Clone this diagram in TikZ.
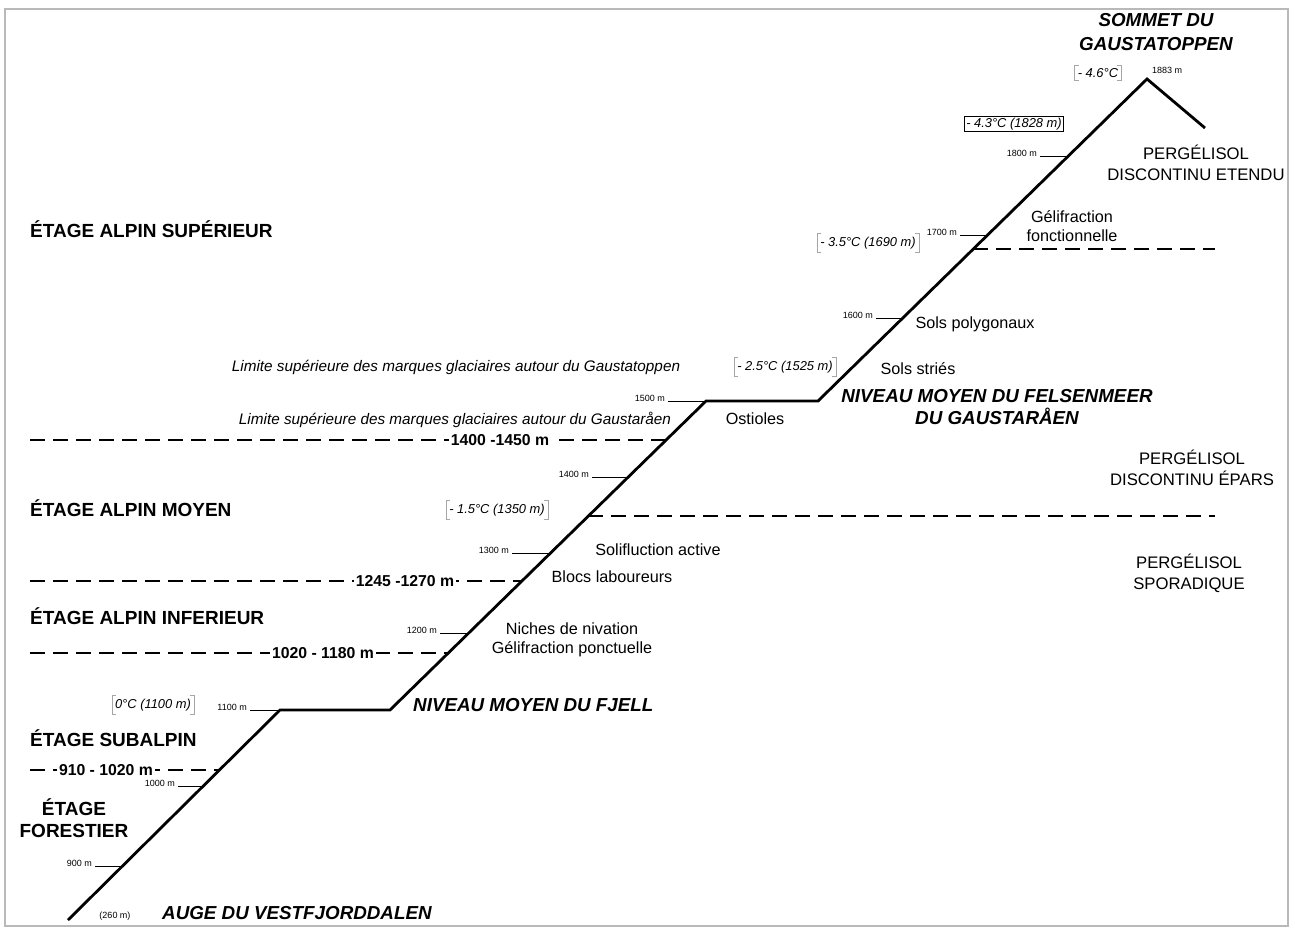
\documentclass[tikz,border=0pt]{standalone}
\usepackage{fontspec}
\setmainfont{Liberation Sans}

\tikzset{
    profile/.style={line width=2.8pt, line join=miter},
    tick/.style={line width=1pt},
    zone/.style={line width=1.2pt, dash pattern=on 15pt off 8pt},
    frame/.style={draw=gray!55, line width=1.2pt},
    bracket/.style={draw=gray!70, line width=0.6pt},
    stage/.style={font=\bfseries\fontsize{19}{22}\selectfont, anchor=west, inner sep=0pt},
    place/.style={font=\bfseries\itshape\fontsize{18.8}{22}\selectfont, align=center, inner sep=0pt},
    process/.style={font=\fontsize{16.2}{19.5}\selectfont, align=center, inner sep=0pt},
    perma/.style={font=\fontsize{16.7}{21}\selectfont, align=center, inner sep=0pt},
    alt/.style={font=\fontsize{9}{10}\selectfont, anchor=base east, inner sep=0pt},
    temp/.style={font=\itshape\fontsize{12.9}{15}\selectfont, inner sep=3pt},
    beltlabel/.style={font=\bfseries\fontsize{15.8}{18}\selectfont, fill=white, inner sep=2pt},
    limitlabel/.style={font=\itshape\fontsize{15.3}{18}\selectfont, inner sep=0pt}
}

\begin{document}
\begin{tikzpicture}[x=1pt, y=-1pt]
        \useasboundingbox (0,0) rectangle (1295,931);
        \draw[frame] (5,9) rectangle (1288,926); %Frame

        % Profile
        \coordinate (p0) at (68,920);
        \coordinate (p1) at (280,710); %Fjell
        \coordinate (p2) at (390,710);
        \coordinate (p3) at (706,401); %Felsenmeer
        \coordinate (p4) at (818,401);
        \coordinate (p5) at (1147,79); %Summit
        \coordinate (p6) at (1205,128);
        \draw[profile] (p0) -- (p1) -- (p2) -- (p3) -- (p4) -- (p5) -- (p6);

        % Points on the slope
        \coordinate (k900) at (122.5,866);
        \coordinate (k1000) at (203,786);
        \coordinate (k1200) at (469,633);
        \coordinate (k1300) at (551,553);
        \coordinate (k1400) at (628,477);
        \coordinate (k1600) at (903,318);
        \coordinate (k1700) at (988,235);
        \coordinate (k1800) at (1068,156);
        \coordinate (z910) at (219,770);
        \coordinate (z1020) at (448,653);
        \coordinate (z1245) at (522,581);
        \coordinate (z1350) at (588,516);
        \coordinate (z1400) at (666,440);
        \coordinate (z1690) at (973,249);

        % Altitude ticks
        \node[alt] (a900) at (92,866) {900 m};
        \node[alt] (a1000) at (175,786) {1000 m};
        \node[alt] (a1100) at (247,710) {1100 m};
        \node[alt] (a1200) at (437,633) {1200 m};
        \node[alt] (a1300) at (509,553) {1300 m};
        \node[alt] (a1400) at (589,477) {1400 m};
        \node[alt] (a1500) at (665,401) {1500 m};
        \node[alt] (a1600) at (873,318) {1600 m};
        \node[alt] (a1700) at (957,235) {1700 m};
        \node[alt] (a1800) at (1037,156) {1800 m};
        \foreach \h in {900,1000,1200,1300,1400,1600,1700,1800}
            \draw[tick] ([xshift=3pt]a\h.base east) -- (k\h);
        \draw[tick] ([xshift=3pt]a1100.base east) -- (p1);
        \draw[tick] ([xshift=3pt]a1500.base east) -- (p3);
        \node[alt, anchor=base west] (a1883) at (1152,74) {1883 m};
        \node[alt, anchor=base] (a260) at (115,918) {(260 m)};

        % Vegetation belts
        \draw[zone] (30,770) -- (z910);
        \draw[zone] (30,653) -- (z1020);
        \draw[zone] (30,581) -- (z1245);
        \draw[zone] (30,440) -- (z1400);
        \node[beltlabel] (r910) at (106,770) {910 - 1020 m};
        \node[beltlabel] (r1020) at (323,653) {1020 - 1180 m};
        \node[beltlabel] (r1245) at (405,581) {1245 -1270 m};
        \node[beltlabel] (r1400) at (500,440) {1400 -1450 m};
        \node[stage] (alpsup) at (30,229) {ÉTAGE ALPIN SUPÉRIEUR};
        \node[stage] (alpmoy) at (30,508) {ÉTAGE ALPIN MOYEN};
        \node[stage] (alpinf) at (30,616) {ÉTAGE ALPIN INFERIEUR};
        \node[stage] (subalp) at (30,738) {ÉTAGE SUBALPIN};
        \node[stage, anchor=center, align=center, font=\bfseries\fontsize{19}{22}\selectfont] (forest) at (74,818) {ÉTAGE\\FORESTIER};

        % Permafrost limits
        \draw[zone] (z1350) -- (1215,516);
        \draw[zone] (z1690) -- (1215,249);
        \node[perma] (pdet) at (1196,163) {PERGÉLISOL\\DISCONTINU ETENDU};
        \node[perma] (pdep) at (1192,468) {PERGÉLISOL\\DISCONTINU ÉPARS};
        \node[perma] (pspo) at (1189,573) {PERGÉLISOL\\SPORADIQUE};

        % Temperatures
        \node[temp] (t0) at (153,705) {0°C (1100 m)};
        \node[temp] (t15) at (497,510) {- 1.5°C (1350 m)};
        \node[temp] (t25) at (785,367) {- 2.5°C (1525 m)};
        \node[temp] (t35) at (868,243) {- 3.5°C (1690 m)};
        \node[temp, draw, line width=0.7pt, inner sep=1.5pt] (t43) at (1014,124) {- 4.3°C (1828 m)};
        \node[temp] (t46) at (1098,73) {- 4.6°C};
        \foreach \t in {t0,t15,t25,t35,t46}
            \draw[bracket] ([xshift=4pt]\t.north west) -- (\t.north west) -- (\t.south west) -- ++(4,0)
                           ([xshift=-4pt]\t.north east) -- (\t.north east) -- (\t.south east) -- ++(-4,0);

        % Landforms
        \node[place, anchor=west] (auge) at (162,913) {AUGE DU VESTFJORDDALEN};
        \node[place, anchor=west] (fjell) at (413,705) {NIVEAU MOYEN DU FJELL};
        \node[place] (felsen) at (997,407) {NIVEAU MOYEN DU FELSENMEER\\DU GAUSTARÅEN};
        \node[place, font=\bfseries\itshape\fontsize{18.8}{24}\selectfont] (sommet) at (1156,32) {SOMMET DU\\GAUSTATOPPEN};
        \node[limitlabel] (limtop) at (456,367) {Limite supérieure des marques glaciaires autour du Gaustatoppen};
        \node[limitlabel] (limrae) at (455,420) {Limite supérieure des marques glaciaires autour du Gaustaråen};

        % Periglacial processes
        \node[process] (niches) at (572,640) {Niches de nivation\\Gélifraction ponctuelle};
        \node[process] (solif) at (658,550) {Solifluction active};
        \node[process] (blocs) at (612,577) {Blocs laboureurs};
        \node[process] (ostio) at (755,419) {Ostioles};
        \node[process] (stries) at (918,369) {Sols striés};
        \node[process] (polyg) at (975,324) {Sols polygonaux};
        \node[process] (gelif) at (1072,226) {Gélifraction\\fonctionnelle};
\end{tikzpicture}
\end{document}
